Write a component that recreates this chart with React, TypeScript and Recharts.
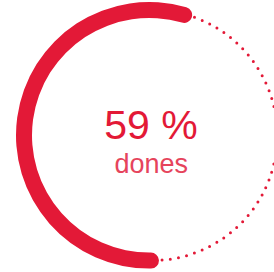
import React from 'react';
import { PieChart, Pie, Cell, Label } from 'recharts';

const categories = ['done', 'remaining'];
const values = [59, 41];
const trackValues = [100];
const centerLabel = '59 %';
const subLabel = 'dones';

const RED = '#e31937';
const FONT = '"Liberation Sans", Arial, Helvetica, sans-serif';

const data = categories.map((name, i) => ({ name, value: values[i] }));
const trackData = trackValues.map((value) => ({ name: 'track', value }));

const CX = 149.3;
const CY = 135.3;
const TRACK_R = 125.3;
const DOT_COUNT = 95;
const DOT_STEP = (2 * Math.PI * TRACK_R) / DOT_COUNT;
// dots only along the forward pass of the ring path, then one long gap
const dotPattern = [
  ...Array.from({ length: DOT_COUNT - 1 }, () => `0 ${DOT_STEP.toFixed(3)}`),
  `0 ${(DOT_STEP + 2000).toFixed(3)}`,
].join(' ');

const renderCenter = (props: any) => {
  const vb = props.viewBox || {};
  const cx = vb.cx ?? CX;
  const cy = vb.cy ?? CY;
  return (
    <g>
      <text x={cx + 1.7} y={cy + 3.7} textAnchor="middle" fill={RED} fontSize={41} fontFamily={FONT}>
        {centerLabel}
      </text>
      <text x={cx + 2} y={cy + 37.7} textAnchor="middle" fill="#e6445c" fontSize={27} fontFamily={FONT}>
        {subLabel}
      </text>
    </g>
  );
};

export default function App() {
  return (
    <div style={{ position: 'absolute', left: 0, top: 0, width: 274, height: 272, background: '#fff' }}>
      <PieChart width={274} height={272} margin={{ top: 0, right: 0, bottom: 0, left: 0 }}>
        <Pie
          data={trackData}
          dataKey="value"
          cx={CX}
          cy={CY}
          innerRadius={TRACK_R}
          outerRadius={TRACK_R}
          startAngle={91.4}
          endAngle={451.4}
          fill="none"
          stroke={RED}
          strokeWidth={3}
          strokeDasharray={dotPattern}
          strokeLinecap="round"
          isAnimationActive={false}
        />
        <Pie
          data={data}
          dataKey="value"
          cx={CX}
          cy={CY}
          innerRadius={117.3}
          outerRadius={133.3}
          startAngle={70.2}
          endAngle={416.3}
          cornerRadius={8}
          stroke="none"
          isAnimationActive={false}
        >
          <Cell fill={RED} />
          <Cell fill="transparent" />
          <Label position="center" content={renderCenter} />
        </Pie>
      </PieChart>
    </div>
  );
}
